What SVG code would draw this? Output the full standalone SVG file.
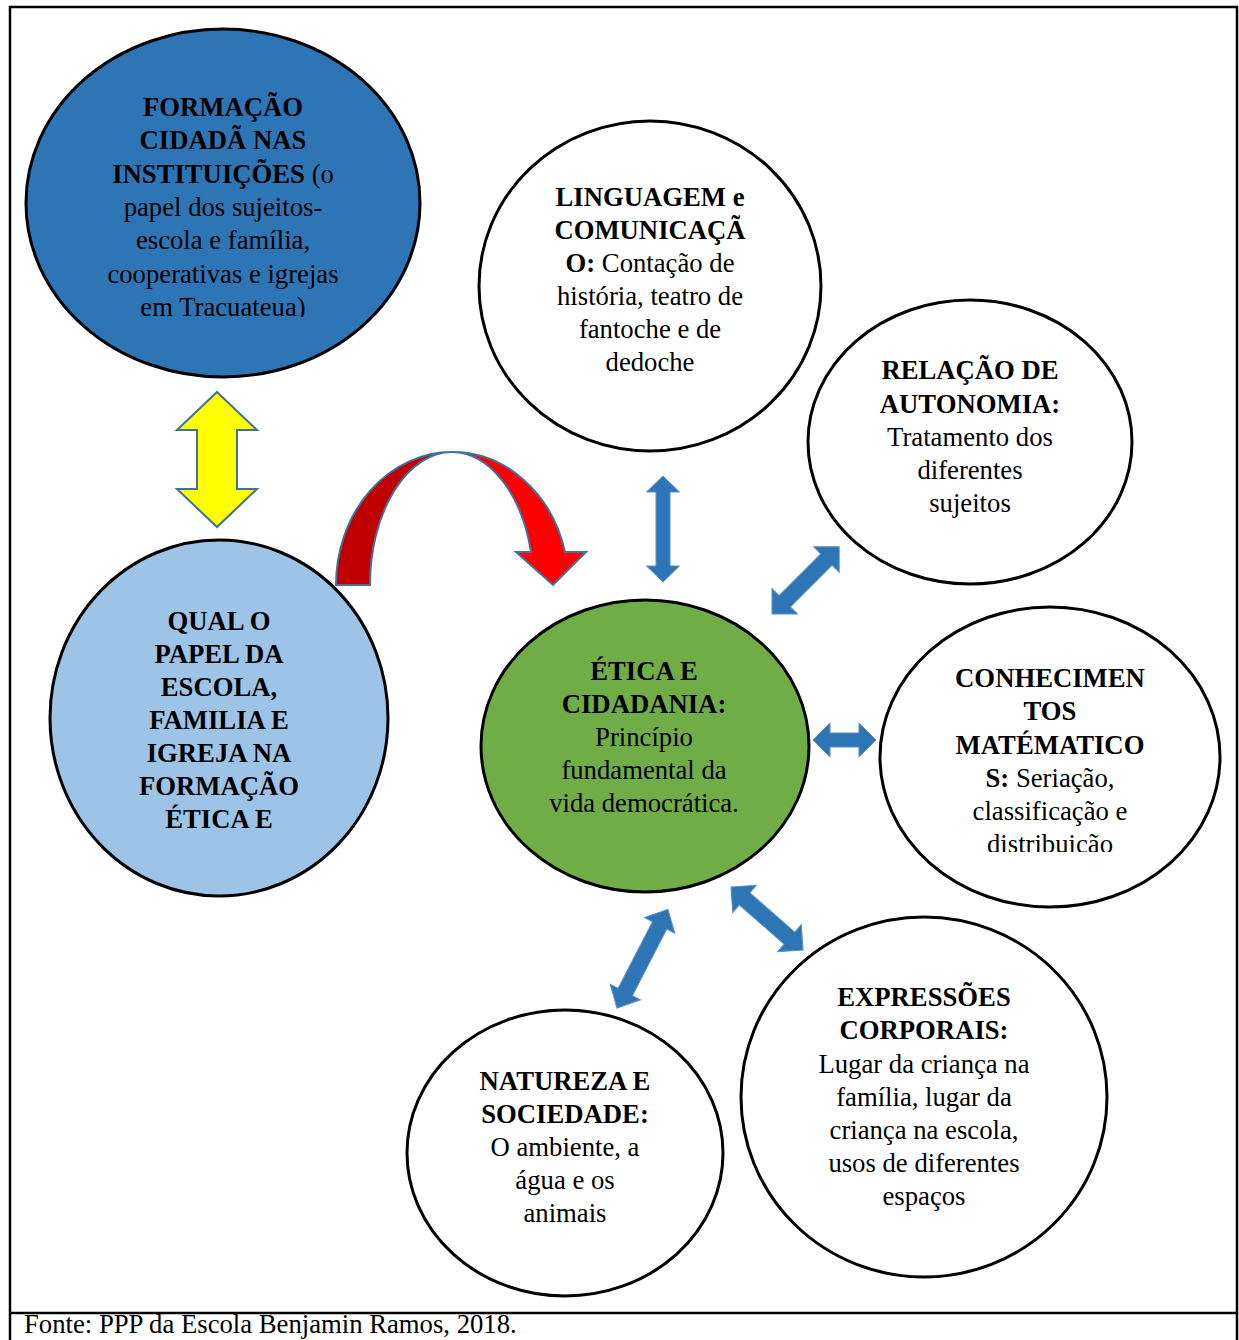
<svg xmlns="http://www.w3.org/2000/svg" width="1239" height="1340" viewBox="0 0 1239 1340">
<style>
  .node { stroke: #000; stroke-width: 3; }
  .t { font-family: "Liberation Serif", "Times New Roman", serif; font-size: 26.7px; fill: #000; text-anchor: middle; }
  .b { font-weight: bold; }
  .frame { fill: none; stroke: #000; stroke-width: 2.5; }
  .blue-arrow { fill: #2E75B6; stroke: #5B8FC7; stroke-width: 1; }
  .red-outline { stroke: #41719C; stroke-width: 2; stroke-linejoin: miter; }
</style>
<defs>
  <clipPath id="clipBlue"><rect x="0" y="0" width="1239" height="317"/></clipPath>
  <clipPath id="clipConh"><rect x="0" y="0" width="1239" height="852"/></clipPath>
</defs>
<rect x="0" y="0" width="1239" height="1340" fill="#fff"/>
<g id="frame">
  <path class="frame" d="M10,1340 L10,7 L1237,7 L1237,1340"/>
  <line class="frame" x1="10" y1="1313" x2="1237" y2="1313"/>
</g>

<g id="node-formacao">
  <ellipse class="node" cx="223" cy="203" rx="197" ry="174" fill="#2E75B6"/>
  <g clip-path="url(#clipBlue)">
    <text class="t b" x="223" y="116">FORMAÇÃO</text>
    <text class="t b" x="223" y="149">CIDADÃ NAS</text>
    <text class="t" x="223" y="183"><tspan class="b">INSTITUIÇÕES</tspan> (o</text>
    <text class="t" x="223" y="216">papel dos sujeitos-</text>
    <text class="t" x="223" y="249">escola e família,</text>
    <text class="t" x="223" y="283">cooperativas e igrejas</text>
    <text class="t" x="223" y="316">em Tracuateua)</text>
  </g>
</g>

<g id="node-qual">
  <ellipse class="node" cx="219" cy="718" rx="169" ry="178" fill="#9DC3E6"/>
  <text class="t b" x="219" y="630">QUAL O</text>
  <text class="t b" x="219" y="663">PAPEL DA</text>
  <text class="t b" x="219" y="696">ESCOLA,</text>
  <text class="t b" x="219" y="729">FAMILIA E</text>
  <text class="t b" x="219" y="762">IGREJA NA</text>
  <text class="t b" x="219" y="795">FORMAÇÃO</text>
  <text class="t b" x="219" y="828">ÉTICA E</text>
</g>

<g id="node-linguagem">
  <ellipse class="node" cx="650" cy="286" rx="171" ry="165" fill="#fff"/>
  <text class="t b" x="650" y="206">LINGUAGEM e</text>
  <text class="t b" x="650" y="239">COMUNICAÇÃ</text>
  <text class="t" x="650" y="272"><tspan class="b">O:</tspan> Contação de</text>
  <text class="t" x="650" y="305">história, teatro de</text>
  <text class="t" x="650" y="338">fantoche e de</text>
  <text class="t" x="650" y="371">dedoche</text>
</g>

<g id="node-relacao">
  <ellipse class="node" cx="970" cy="442" rx="162" ry="142" fill="#fff"/>
  <text class="t b" x="970" y="379">RELAÇÃO DE</text>
  <text class="t b" x="970" y="413">AUTONOMIA:</text>
  <text class="t" x="970" y="446">Tratamento dos</text>
  <text class="t" x="970" y="479">diferentes</text>
  <text class="t" x="970" y="512">sujeitos</text>
</g>

<g id="node-etica">
  <ellipse class="node" cx="645" cy="746" rx="164" ry="146" fill="#70AD47"/>
  <text class="t b" x="644" y="680">ÉTICA E</text>
  <text class="t b" x="644" y="713">CIDADANIA:</text>
  <text class="t" x="644" y="746">Princípio</text>
  <text class="t" x="644" y="779">fundamental da</text>
  <text class="t" x="644" y="812">vida democrática.</text>
</g>

<g id="node-conhecimentos">
  <ellipse class="node" cx="1050" cy="757" rx="170" ry="150" fill="#fff"/>
  <g clip-path="url(#clipConh)">
    <text class="t b" x="1050" y="687">CONHECIMEN</text>
    <text class="t b" x="1050" y="720">TOS</text>
    <text class="t b" x="1050" y="754">MATÉMATICO</text>
    <text class="t" x="1050" y="787"><tspan class="b">S:</tspan> Seriação,</text>
    <text class="t" x="1050" y="820">classificação e</text>
    <text class="t" x="1050" y="853">distribuição</text>
  </g>
</g>

<g id="node-expressoes">
  <ellipse class="node" cx="924" cy="1097" rx="183" ry="180" fill="#fff"/>
  <text class="t b" x="924" y="1006">EXPRESSÕES</text>
  <text class="t b" x="924" y="1039">CORPORAIS:</text>
  <text class="t" x="924" y="1073">Lugar da criança na</text>
  <text class="t" x="924" y="1106">família, lugar da</text>
  <text class="t" x="924" y="1139">criança na escola,</text>
  <text class="t" x="924" y="1172">usos de diferentes</text>
  <text class="t" x="924" y="1205">espaços</text>
</g>

<g id="node-natureza">
  <ellipse class="node" cx="565" cy="1153" rx="158" ry="143" fill="#fff"/>
  <text class="t b" x="565" y="1090">NATUREZA E</text>
  <text class="t b" x="565" y="1123">SOCIEDADE:</text>
  <text class="t" x="565" y="1156">O ambiente, a</text>
  <text class="t" x="565" y="1189">água e os</text>
  <text class="t" x="565" y="1222">animais</text>
</g>

<g id="connectors">
  <path d="M217,392 L257,430 L237,430 L237,489 L257,489 L217,527 L177,489 L197,489 L197,430 L177,430 Z" fill="#FFFF00" stroke="#41719C" stroke-width="2"/>
  <path class="red-outline" fill="#C00000" d="M336,585 A116,133 0 0 1 452,452 A82,133 0 0 0 370,585 Z"/>
  <path class="red-outline" fill="#FF0000" d="M452,452 A116,133 0 0 1 565,552 L586,552 L553,585 L516,552 L531,552 A82,133 0 0 0 452,452 Z"/>
  <path class="blue-arrow" transform="translate(663,476) rotate(90)" d="M0,0 L16,-16.5 L16,-7 L90,-7 L90,-16.5 L106,0 L90,16.5 L90,7 L16,7 L16,16.5 Z"/>
  <path class="blue-arrow" transform="translate(772,614) rotate(-45)" d="M0,0 L18,-18 L18,-8 L77,-8 L77,-18 L95,0 L77,18 L77,8 L18,8 L18,18 Z"/>
  <path class="blue-arrow" transform="translate(813,740)" d="M0,0 L17,-17 L17,-7 L46,-7 L46,-17 L63,0 L46,17 L46,7 L17,7 L17,17 Z"/>
  <path class="blue-arrow" transform="translate(731,887) rotate(41.2)" d="M0,0 L18,-18 L18,-8 L77.7,-8 L77.7,-18 L95.7,0 L77.7,18 L77.7,8 L18,8 L18,18 Z"/>
  <path class="blue-arrow" transform="translate(617,1008) rotate(-62.7)" d="M0,0 L18,-17 L18,-8 L93,-8 L93,-17 L111,0 L93,17 L93,8 L18,8 L18,17 Z"/>
</g>

<g id="footer">
  <text x="24" y="1333" font-family="Liberation Serif, Times New Roman, serif" font-size="26.7px" fill="#000">Fonte: PPP da Escola Benjamin Ramos, 2018.</text>
</g>
</svg>
